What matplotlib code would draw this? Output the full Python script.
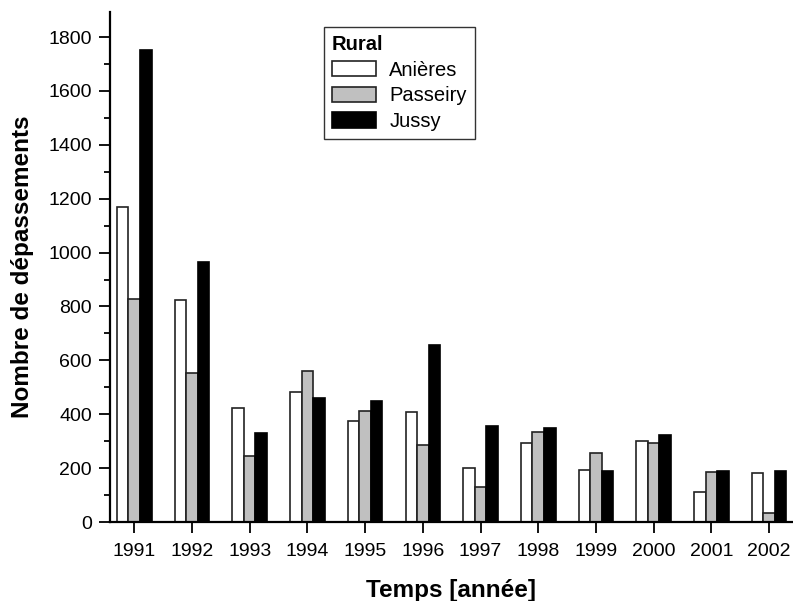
import numpy as np
import matplotlib.pyplot as plt
from matplotlib.ticker import MultipleLocator

plt.rcParams['font.family'] = ['Liberation Sans', 'DejaVu Sans']

# nombre de depassements par annee
years = [1991, 1992, 1993, 1994, 1995, 1996, 1997, 1998, 1999, 2000, 2001, 2002]
anieres = [1169, 824, 424, 484, 375, 407, 199, 292, 193, 299, 111, 183]
passeiry = [828, 552, 245, 560, 412, 287, 130, 333, 257, 292, 186, 33]
jussy = [1752, 966, 330, 459, 448, 657, 357, 349, 188, 322, 190, 188]

x = np.array(years)
w = 0.2

fig = plt.figure(figsize=(7.93, 6.01), dpi=100)
ax = fig.add_axes([0.1387, 0.1314, 0.8603, 0.8486])

ax.bar(x - w, anieres, w, color='white', edgecolor='#222222', linewidth=1.2, label='Anières')
ax.bar(x, passeiry, w, color='#c0c0c0', edgecolor='#222222', linewidth=1.2, label='Passeiry')
ax.bar(x + w, jussy, w, color='black', edgecolor='black', linewidth=1.2, label='Jussy')

ax.set_xlim(1990.58, 2002.4)
ax.set_ylim(0, 1893)
ax.set_xticks(years)
ax.yaxis.set_major_locator(MultipleLocator(200))
ax.yaxis.set_minor_locator(MultipleLocator(100))
ax.tick_params(axis='both', which='major', direction='out', length=8, width=1.3, labelsize=14)
ax.tick_params(axis='x', which='major', pad=7)
ax.tick_params(axis='y', which='major', pad=5)
ax.tick_params(axis='y', which='minor', direction='out', length=4.5, width=1.3)

for s in ['top', 'right']:
    ax.spines[s].set_visible(False)
for s in ['left', 'bottom']:
    ax.spines[s].set_linewidth(1.6)

ax.set_xlabel('Temps [année]', fontsize=17.5, fontweight='bold', labelpad=14)
ax.set_ylabel('Nombre de dépassements', fontsize=17.5, fontweight='bold', labelpad=10)

leg = ax.legend(title='Rural', loc='upper left', bbox_to_anchor=(324 / 793, 1 - 27 / 601),
                bbox_transform=fig.transFigure,
                fontsize=14.5, frameon=True, fancybox=False, edgecolor='black',
                handlelength=2.2, handleheight=0.8, borderpad=0.4, labelspacing=0.33,
                handletextpad=0.65, borderaxespad=0)
leg.get_title().set_fontweight('bold')
leg.get_title().set_fontsize(14.5)
leg._legend_box.align = 'left'
leg.get_frame().set_linewidth(1)

fig.savefig('out.png', dpi=100)
